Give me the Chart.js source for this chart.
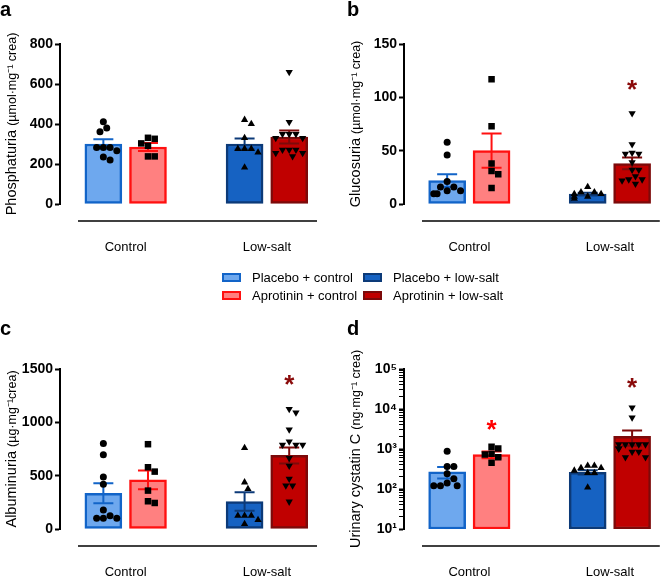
<!DOCTYPE html>
<html>
<head>
<meta charset="utf-8">
<script src="https://cdn.jsdelivr.net/npm/chart.js@4.4.0/dist/chart.umd.min.js"></script>
<style>
  html, body { margin: 0; padding: 0; background: #fff; overflow: hidden; }
  body { width: 671px; height: 577px; position: relative; font-family: 'Liberation Sans', Arial, sans-serif; color: #000; }
  canvas { position: absolute; }
  .letter { position: absolute; font-weight: bold; font-size: 20px; line-height: 20px; }
  .item { position: absolute; white-space: nowrap; font-size: 13px; line-height: 18px; }
  .swatch { display: inline-block; width: 15px; height: 5px; border: 2px solid; vertical-align: middle; margin: -2px 11px 0 0; }
</style>
</head>
<body>
<canvas id="pa" width="328" height="260" style="left:0;top:0"></canvas>
<canvas id="pb" width="327" height="260" style="left:344px;top:0"></canvas>
<canvas id="pc" width="328" height="260" style="left:0;top:325px"></canvas>
<canvas id="pd" width="327" height="260" style="left:344px;top:325px"></canvas>
<div class="letter" style="left:0;top:-1px">a</div>
<div class="letter" style="left:347px;top:-1px">b</div>
<div class="letter" style="left:0;top:318px">c</div>
<div class="letter" style="left:347px;top:318px">d</div>
<div id="legend"></div>
<script>
const FONT = "'Liberation Sans', Arial, sans-serif";
Chart.defaults.font.family = FONT;
Chart.defaults.color = '#000';

// groups on the x axis and the four bars (same order everywhere)
const groups = ['Control', 'Low-salt'];
const seriesNames = ['Placebo + control', 'Aprotinin + control', 'Placebo + low-salt', 'Aprotinin + low-salt'];
const fills = ['#6ea8ee', '#ff8080', '#1662c2', '#c00000'];
const edges = ['#1264c8', '#ff1010', '#0c3a78', '#7c0a0a'];

// a - phosphaturia
const phosPC = [411, 380, 361, 283, 283, 283, 266, 235, 220];
const phosAC = [331, 326, 303, 291, 238, 238];
const phosPL = [421, 400, 330, 276, 276, 276, 258, 183];
const phosAL = [660, 410, 350, 350, 350, 330, 330, 271, 271, 271, 255, 255, 238];
const phosMean = [300, 285, 300, 335];
const phosSem = [24, 20, 28, 32];
const phosStars = [null, null, null, null];

// b - glucosuria
const glucPC = [58, 46, 21, 16, 16, 12.5, 12.5, 9.5, 9.5];
const glucAC = [117, 73, 38, 31, 28, 15];
const glucPL = [16, 11, 11, 9.5, 9.5, 7, 7, 5];
const glucAL = [85, 56, 48, 47, 47, 39, 32, 32, 26, 23, 23, 22, 19];
const glucMean = [22, 50, 9.3, 38];
const glucSem = [6, 16, 1.2, 5.5];
const glucStars = [null, null, null, 112];

// c - albuminuria
const albPC = [801, 695, 488, 420, 178, 125, 100, 100, 100];
const albAC = [795, 579, 538, 360, 260, 244];
const albPL = [760, 438, 376, 125, 125, 125, 85, 47];
const albAL = [1124, 1092, 932, 820, 789, 789, 789, 664, 592, 470, 407, 407, 256];
const albMean = [335, 460, 257, 690];
const albSem = [94, 88, 87, 75];
const albStars = [null, null, null, 1400];

// d - urinary cystatin C (log axis)
const cysPC = [880, 363, 363, 242, 181, 141, 121, 121, 121];
const cysAC = [1135, 1030, 757, 728, 624, 450];
const cysPL = [385, 385, 337, 337, 289, 252, 252, 110];
const cysAL = [10870, 6100, 1300, 1300, 1300, 1300, 1300, 1030, 1030, 850, 850, 620, 620];
const cysMean = [268, 728, 262, 2060];
const cysSem = [85, 140, 32, 850];
const cysStars = [null, 4100, null, 44000];

const SUP = ['⁰', '¹', '²', '³', '⁴', '⁵'];
const OFF = 0.158;           // half distance between the two bars of a group
const PX_PER_X = 147;        // rough pixels per x unit, only used to spread the dots
const barX = seriesNames.map((_, i) => Math.floor(i / 2) + (i % 2 ? OFF : -OFF));
const marks = ['circle', 'rect', 'triangle', 'triangle'];
const radii = [3.5, 4.6, 4.2, 4.2];

// spread dots sideways so they do not sit on top of each other
function swarm(values, cx, toPx) {
  const placed = [];
  values.slice().sort((a, b) => b - a).forEach(v => {
    const py = toPx(v);
    let dx = 0;
    for (const s of [0, 1, -1, 2, -2, 3, -3, 4, -4]) {
      dx = s * 3.5;
      if (placed.every(p => Math.hypot(p.dx - dx, p.py - py) >= 7)) break;
    }
    placed.push({ dx, py, v });
  });
  return placed.map(p => ({ x: cx + p.dx / PX_PER_X, y: p.v }));
}

const isPow10 = v => { const e = Math.round(Math.log10(v)); return Math.abs(v - Math.pow(10, e)) < 1e-6 * v; };

const extras = p => ({
  id: 'extras',
  afterDatasetDraw(chart, args) {
    if (args.index !== 0) return;
    const ctx = chart.ctx, y = chart.scales.y;
    args.meta.data.forEach((bar, i) => {
      const top = y.getPixelForValue(p.mean[i] + p.sem[i]);
      const bot = y.getPixelForValue(p.mean[i] - p.sem[i]);
      ctx.save();
      ctx.strokeStyle = edges[i];
      ctx.lineWidth = 2;
      ctx.beginPath();
      ctx.moveTo(bar.x, bot); ctx.lineTo(bar.x, top);
      ctx.moveTo(bar.x - 10, top); ctx.lineTo(bar.x + 10, top);
      ctx.moveTo(bar.x - 10, bot); ctx.lineTo(bar.x + 10, bot);
      ctx.stroke();
      ctx.restore();
    });
  },
  afterDraw(chart) {
    const { ctx, chartArea: a, scales: { y } } = chart;
    const bars = chart.getDatasetMeta(0).data;
    ctx.save();
    // detached x axis line
    ctx.strokeStyle = '#000';
    ctx.lineWidth = 1.5;
    ctx.beginPath();
    ctx.moveTo(a.left + 18, a.bottom + 17);
    ctx.lineTo(a.right, a.bottom + 17);
    ctx.stroke();
    // significance stars
    ctx.font = 'bold 26px ' + FONT;
    ctx.textAlign = 'center';
    ctx.textBaseline = 'middle';
    p.stars.forEach((v, i) => {
      if (v == null) return;
      ctx.fillStyle = i === 1 ? '#ff0000' : '#8a0a0a';
      ctx.fillText('*', bars[i].x, y.getPixelForValue(v) + 6);
    });
    // y title: name bigger, unit smaller
    ctx.translate(11, (a.top + a.bottom) / 2);
    ctx.rotate(-Math.PI / 2);
    ctx.textAlign = 'left';
    ctx.textBaseline = 'alphabetic';
    ctx.fillStyle = '#000';
    ctx.font = '14.5px ' + FONT;
    const w1 = ctx.measureText(p.title + ' ').width;
    ctx.font = '12.5px ' + FONT;
    const w2 = ctx.measureText(p.unit).width;
    const x0 = -(w1 + w2) / 2;
    ctx.font = '14.5px ' + FONT;
    ctx.fillText(p.title + ' ', x0, 5);
    ctx.font = '12.5px ' + FONT;
    ctx.fillText(p.unit, x0 + w1, 5);
    ctx.restore();
  }
});

const panels = [
  { id: 'pa', title: 'Phosphaturia', unit: '(µmol·mg⁻¹ crea)', pts: [phosPC, phosAC, phosPL, phosAL], mean: phosMean, sem: phosSem, stars: phosStars, max: 800, step: 200 },
  { id: 'pb', title: 'Glucosuria', unit: '(µmol·mg⁻¹ crea)', pts: [glucPC, glucAC, glucPL, glucAL], mean: glucMean, sem: glucSem, stars: glucStars, max: 150, step: 50 },
  { id: 'pc', title: 'Albuminuria', unit: '(µg·mg⁻¹crea)', pts: [albPC, albAC, albPL, albAL], mean: albMean, sem: albSem, stars: albStars, max: 1500, step: 500 },
  { id: 'pd', title: 'Urinary cystatin C', unit: '(ng·mg⁻¹ crea)', pts: [cysPC, cysAC, cysPL, cysAL], mean: cysMean, sem: cysSem, stars: cysStars, log: true }
];

panels.forEach(p => {
  const toPx = p.log ? v => Math.log10(v) * 40 : v => v / p.max * 160;
  const yAxis = {
    grid: { drawOnChartArea: false, drawTicks: true, tickLength: 5, tickColor: '#000', tickWidth: 2 },
    border: { color: '#000', width: 2 },
    ticks: { color: '#000', padding: 2, font: { size: 14, weight: 'bold' } },
    afterFit: s => { s.width = 60; }
  };
  if (p.log) {
    Object.assign(yAxis, { type: 'logarithmic', min: 10, max: 100000 });
    yAxis.afterBuildTicks = s => {
      const t = [];
      for (let e = 1; e < 5; e++) for (let k = 1; k < 10; k++) t.push({ value: k * Math.pow(10, e) });
      t.push({ value: 100000 });
      s.ticks = t;
    };
    yAxis.ticks.autoSkip = false;
    yAxis.ticks.callback = v => isPow10(v) ? '10' + SUP[Math.round(Math.log10(v))] : '';
    yAxis.grid.tickWidth = c => (c.tick && isPow10(c.tick.value)) ? 2 : 1;
  } else {
    Object.assign(yAxis, { type: 'linear', min: 0, max: p.max });
    yAxis.ticks.stepSize = p.step;
    yAxis.ticks.callback = v => String(v);
  }

  new Chart(document.getElementById(p.id), {
    type: 'bar',
    data: {
      datasets: [
        {
          type: 'bar', order: 1,
          data: barX.map((x, i) => ({ x, y: p.mean[i] })),
          backgroundColor: fills, borderColor: edges,
          borderWidth: 2.5, borderSkipped: false, barThickness: 37
        },
        ...p.pts.map((vals, i) => ({
          type: 'scatter', order: 0,
          data: swarm(vals, barX[i], toPx),
          pointStyle: marks[i], pointRotation: i === 3 ? 180 : 0,
          pointRadius: radii[i], pointBackgroundColor: '#000', pointBorderWidth: 0
        }))
      ]
    },
    options: {
      responsive: false,
      animation: false,
      events: [],
      layout: { padding: { top: 44, left: 0, right: 0, bottom: 0 } },
      plugins: { legend: { display: false }, tooltip: { enabled: false } },
      scales: {
        x: {
          type: 'linear', min: -0.465, max: 1.355, offset: false,
          grid: { display: false, drawTicks: false },
          border: { display: false },
          afterBuildTicks: s => { s.ticks = groups.map((g, i) => ({ value: i })); },
          afterFit: s => { s.height = 56; },
          ticks: { padding: 36, autoSkip: false, maxRotation: 0, color: '#000', font: { size: 13 }, callback: v => groups[v] }
        },
        y: yAxis
      }
    },
    plugins: [extras(p)]
  });
});

// shared legend between the two rows
const legend = document.getElementById('legend');
const cols = [222, 363], rows = [269, 287];
[0, 2, 1, 3].forEach(k => {
  const d = document.createElement('div');
  d.className = 'item';
  d.style.left = cols[Math.floor(k / 2)] + 'px';
  d.style.top = rows[k % 2] + 'px';
  d.innerHTML = '<span class="swatch" style="background:' + fills[k] + ';border-color:' + edges[k] + '"></span>' + seriesNames[k];
  legend.appendChild(d);
});
</script>
</body>
</html>
